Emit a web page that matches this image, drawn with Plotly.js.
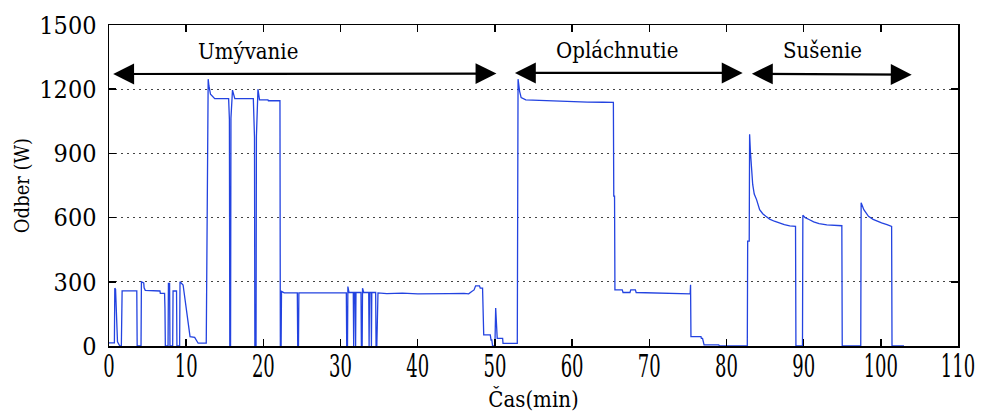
<!DOCTYPE html>
<html>
<head>
<meta charset="utf-8">
<script src="https://cdn.plot.ly/plotly-3.0.1.min.js"></script>
<style>html,body{margin:0;padding:0;background:#fff;}#chart{width:984px;height:412px;}</style>
</head>
<body>
<div id="chart"></div>
<script>
// Time (min) and power draw (W) of a dishwasher cycle
const timeMin = [
  0.0, 0.7, 0.75, 0.85, 1.1, 1.4, 1.6, 1.7, 3.6, 3.65, 4.15, 4.2, 4.5, 4.55, 4.7, 6.6, 6.65, 7.2, 7.25, 7.3,
  7.65, 7.7, 7.85, 7.9, 8.25, 8.3, 8.75, 8.8, 9.15, 9.2, 9.6, 10.05, 10.5, 11.1, 11.55, 12.6,
  12.85, 12.95, 13.15, 13.7, 15.5, 15.6, 15.65, 15.75, 15.8, 16.0, 16.3, 18.7, 18.85, 18.9, 19.05, 19.1,
  19.3, 19.5, 20.6, 20.65, 22.15, 22.2, 22.3, 22.35, 22.7, 24.4, 24.45, 24.55, 24.6, 30.75, 30.8, 30.9,
  30.95, 31.1, 31.65, 31.7, 31.75, 31.9, 31.95, 32.0, 32.65, 32.7, 32.8, 32.85, 33.0, 33.65, 33.7, 33.75,
  33.95, 34.0, 34.05, 34.55, 34.6, 34.7, 34.75, 34.85, 36.0, 38.0, 40.0, 42.0, 44.0, 46.0, 46.6, 47.0,
  47.3, 47.5, 48.0, 48.1, 48.4, 48.55, 49.4, 49.5, 49.6, 49.7, 50.0, 50.1, 50.2, 50.3, 51.0, 51.05, 52.9,
  53.0, 53.2, 53.4, 54.0, 56.0, 58.0, 60.0, 62.0, 64.0, 65.35, 65.4, 65.5, 65.55, 66.5, 66.6, 67.5, 67.6,
  68.2, 68.3, 70.0, 72.0, 74.0, 75.3, 75.35, 75.4, 76.7, 76.75, 76.9, 77.1, 79.0, 79.1, 82.7,
  82.75, 82.95, 83.0, 83.1, 83.25, 83.4, 83.6, 83.9, 84.3, 84.7, 85.1, 85.6, 86.2, 86.8, 87.5, 88.2, 88.95,
  89.0, 89.85, 89.9, 90.2, 90.7, 91.3, 92.0, 93.0, 94.95, 95.0, 97.4, 97.45, 97.8, 98.1, 98.4, 99.0, 99.5,
  100.1, 100.8, 101.4, 101.45, 103.0
];
const powerW = [
  15, 15, 270, 265, 20, 0, 0, 258, 258, 0, 0, 300, 295, 272, 260, 257, 246, 246, 176, 0,
  0, 293, 293, 0, 0, 257, 257, 0, 0, 300, 285, 176, 44, 40, 13, 13,
  1247, 1215, 1177, 1156, 1156, 1060, 0, 0, 1065, 1196, 1156, 1156, 975, 0, 0, 980,
  1200, 1150, 1150, 1146, 1146, 0, 0, 255, 248, 248, 0, 0, 248, 248, 0, 0,
  278, 250, 250, 0, 250, 250, 0, 250, 250, 0, 0, 270, 250, 250, 0, 250,
  250, 0, 250, 250, 0, 0, 150, 248, 245, 247, 244, 246, 245, 246, 244, 255,
  262, 281, 281, 270, 270, 52, 52, 28, 28, 0, 0, 177, 100, 36, 36, 12, 12,
  1247, 1190, 1161, 1150, 1147, 1145, 1142, 1140, 1139, 1138, 700, 700, 262, 262, 250, 250, 262,
  262, 250, 248, 246, 245, 244, 286, 44, 44, 36, 36, 5, 5, 0, 0,
  490, 490, 989, 911, 825, 755, 710, 684, 637, 618, 606, 593, 583, 574, 567, 561, 559,
  0, 0, 611, 600, 591, 580, 572, 566, 562, 0, 0, 669, 637, 620, 606, 592, 583,
  575, 567, 559, 0, 0
];
// Phase labels and arrow extents
const phaseNames = ["Umývanie", "Opláchnutie", "Sušenie"];
const phaseStart = [0.35, 52.4, 83.1];
const phaseEnd = [50.2, 82.1, 104.0];
const phaseArrowY = [1271, 1276, 1272];
const phaseArrowYEnd = [1273, 1276, 1268];
const phaseLabelX = [18.0, 65.8, 92.4];
const phaseLabelY = [1375, 1380, 1380];

const xTicks = [0, 10, 20, 30, 40, 50, 60, 70, 80, 90, 100, 110];
const yTicks = [0, 300, 600, 900, 1200, 1500];

const serif = 'DejaVu Serif Condensed, DejaVu Serif';

const annotations = [];
for (let i = 0; i < phaseNames.length; i++) {
  annotations.push({
    x: phaseEnd[i], y: phaseArrowYEnd[i], ax: phaseStart[i], ay: phaseArrowY[i],
    xref: 'x', yref: 'y', axref: 'x', ayref: 'y',
    text: '', showarrow: true, arrowside: 'end+start', arrowhead: 2,
    arrowsize: 1.9, arrowwidth: 2.2, arrowcolor: '#000',
    standoff: 0, startstandoff: 0
  });
  annotations.push({
    x: phaseLabelX[i], y: phaseLabelY[i], xref: 'x', yref: 'y',
    text: phaseNames[i], showarrow: false,
    font: {family: serif, size: 22, color: '#000'}
  });
}

const trace = {
  x: timeMin, y: powerW, type: 'scatter', mode: 'lines',
  line: {color: '#2343e0', width: 1.3}, hoverinfo: 'skip'
};

const layout = {
  width: 984, height: 412,
  margin: {l: 109, r: 26, t: 25, b: 66},
  paper_bgcolor: '#fff', plot_bgcolor: '#fff',
  showlegend: false,
  font: {family: serif, color: '#000'},
  xaxis: {
    range: [0, 110], tickvals: xTicks, ticktext: xTicks.map(String),
    ticks: 'inside', ticklen: 7, tickwidth: 1.5, tickcolor: '#000',
    showline: true, linecolor: '#000', linewidth: 1.5, mirror: 'ticks',
    showgrid: false, zeroline: false,
    tickfont: {family: serif, size: 20, color: '#000'},
    title: {text: 'Čas(min)', font: {family: serif, size: 22, color: '#000'}, standoff: 19}
  },
  yaxis: {
    range: [0, 1500], tickvals: yTicks, ticktext: yTicks.map(String),
    ticks: 'inside', ticklen: 7, tickwidth: 1.5, tickcolor: '#000',
    showline: true, linecolor: '#000', linewidth: 1.5, mirror: 'ticks',
    showgrid: true, gridcolor: '#444', gridwidth: 1, griddash: '2px,4px',
    zeroline: false, ticklabelstandoff: 6,
    tickfont: {family: serif, size: 25, color: '#000'},
    title: {text: 'Odber (W)', font: {family: serif, size: 20, color: '#000'}, standoff: 4}
  },
  annotations: annotations
};

Plotly.newPlot('chart', [trace], layout, {staticPlot: true, displayModeBar: false}).then(function (gd) {
  // the reference's x tick labels are drawn taller than they are wide
  gd.querySelectorAll('.xtick text').forEach(function (t) {
    const bb = t.getBBox();
    const cy = bb.y + bb.height / 2;
    const base = t.getAttribute('transform') || '';
    t.setAttribute('transform', base + ' translate(0,' + (cy + 2) + ') scale(1,1.55) translate(0,' + (-cy) + ')');
  });
});
</script>
</body>
</html>
